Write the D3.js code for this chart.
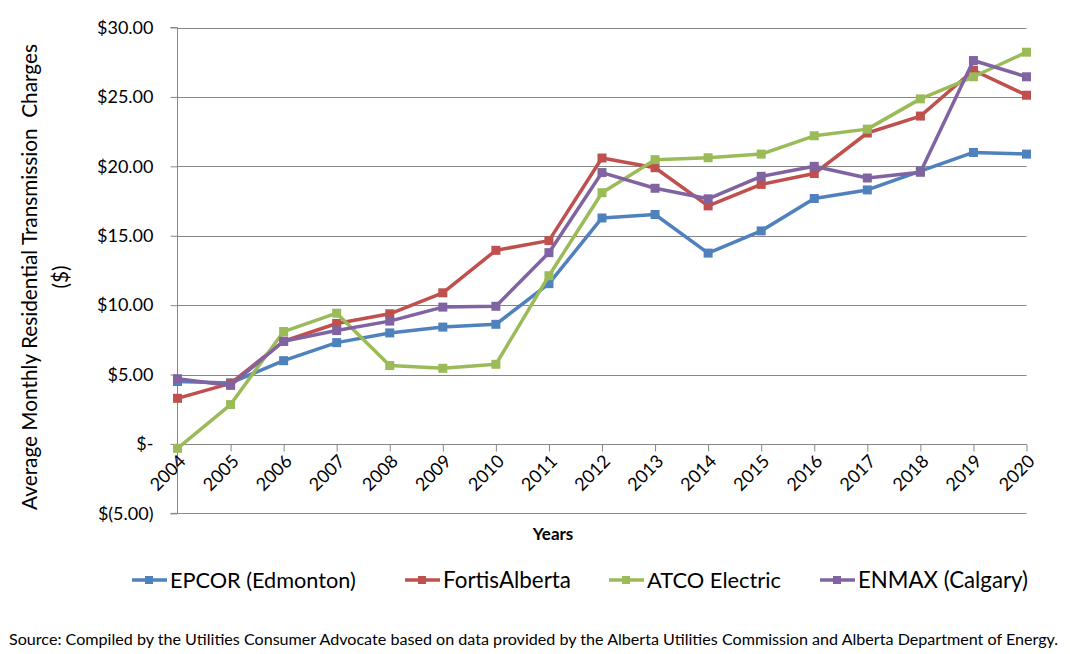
<!DOCTYPE html>
<html>
<head>
<meta charset="utf-8">
<script src="https://cdn.jsdelivr.net/npm/d3@7"></script>
<style>
  html, body { margin: 0; padding: 0; background: #fff; }
  svg { display: block; font-family: Lato, "Open Sans", sans-serif; }
</style>
</head>
<body>
<svg id="chart" width="1070" height="654"></svg>
<script>
const years = [2004,2005,2006,2007,2008,2009,2010,2011,2012,2013,2014,2015,2016,2017,2018,2019,2020];
const epcor  = [4.50,4.40,6.00,7.30,8.00,8.42,8.62,11.55,16.28,16.53,13.75,15.35,17.68,18.30,19.65,21.00,20.88];
const fortis = [3.29,4.37,7.40,8.68,9.38,10.89,13.95,14.65,20.60,19.90,17.15,18.70,19.48,22.40,23.62,26.92,25.12];
const atco   = [-0.31,2.84,8.10,9.42,5.65,5.45,5.74,12.12,18.10,20.48,20.62,20.88,22.20,22.68,24.86,26.45,28.22];
const enmax  = [4.70,4.22,7.40,8.17,8.85,9.86,9.92,13.78,19.55,18.42,17.66,19.28,20.00,19.16,19.57,27.62,26.45];
const seriesNames = ["EPCOR (Edmonton)","FortisAlberta","ATCO Electric","ENMAX (Calgary)"];
const seriesColors = ["#4F81BD","#C0504D","#9BBB59","#8064A2"];
const yTicks = [-5,0,5,10,15,20,25,30];
const yTickLabels = ["$(5.00)","$-","$5.00","$10.00","$15.00","$20.00","$25.00","$30.00"];
const yTitleLines = ["Average Monthly Residential Transmission  Charges","($)"];
const xTitle = "Years";
const sourceText = "Source: Compiled by the Utilities Consumer Advocate based on data provided by the Alberta Utilities Commission and Alberta Department of Energy.";

const series = [epcor, fortis, atco, enmax].map((vals, i) => ({
  name: seriesNames[i], color: seriesColors[i],
  values: vals.map((v, j) => ({ year: years[j], value: v }))
}));

const svg = d3.select("#chart");
const pLeft = 177.5, pRight = 1026.5, pTop = 27.5, pBottom = 513.4;
const x = d3.scalePoint().domain(years).range([pLeft, pRight]);
const y = d3.scaleLinear().domain([-5, 30]).range([pBottom, pTop]);
const axisColor = "#868686";

function fitText(sel, targetWidth) {
  const node = sel.node();
  const fs = parseFloat(sel.attr("font-size"));
  const w = node.getComputedTextLength();
  if (w > 0) sel.attr("font-size", (fs * targetWidth / w).toFixed(2));
}

// Gridlines
svg.append("g").selectAll("line").data(yTicks).join("line")
  .attr("x1", pLeft).attr("x2", pRight)
  .attr("y1", d => Math.round(y(d)) + 0.5).attr("y2", d => Math.round(y(d)) + 0.5)
  .attr("stroke", axisColor).attr("stroke-width", 1);

// Y axis
const yAxis = d3.axisLeft(y).tickValues(yTicks).tickSize(7).tickPadding(17)
  .tickFormat((d, i) => yTickLabels[i]);
const gy = svg.append("g").attr("transform", `translate(${pLeft},0)`).call(yAxis);
gy.select(".domain").attr("stroke", axisColor).attr("d", `M-7,${pTop}H0V${pBottom}H-7`);
gy.selectAll(".tick line").attr("stroke", axisColor);
gy.selectAll(".tick text").attr("font-family", "Lato, sans-serif").attr("font-size", 18).attr("fill", "#000");

// X axis at zero
const xAxis = d3.axisBottom(x).tickSize(7).tickFormat("");
const gx = svg.append("g").attr("transform", `translate(0,${Math.round(y(0)) + 0.5})`).call(xAxis);
gx.select(".domain").attr("stroke", axisColor).attr("d", `M${pLeft},0H${pRight}`);
gx.selectAll(".tick line").attr("stroke", axisColor);

// X labels rotated
svg.append("g").selectAll("text").data(years).join("text")
  .attr("transform", d => `translate(${x(d) + 5},${y(0) + 14}) rotate(-45)`)
  .attr("text-anchor", "end").attr("dy", "0.35em")
  .attr("font-size", 18).attr("fill", "#000")
  .text(d => d);

// Lines
const line = d3.line().x(d => x(d.year)).y(d => y(d.value));
const gs = svg.append("g").selectAll("g").data(series).join("g");
gs.append("path").attr("d", d => line(d.values))
  .attr("fill", "none").attr("stroke", d => d.color).attr("stroke-width", 3.5)
  .attr("stroke-linejoin", "round");
gs.each(function(s) {
  d3.select(this).selectAll("rect").data(s.values).join("rect")
    .attr("x", d => x(d.year) - 4.5).attr("y", d => y(d.value) - 4.5)
    .attr("width", 9).attr("height", 9).attr("fill", s.color);
});

// Axis titles
const yt = svg.append("g").attr("transform", "translate(0,277) rotate(-90)");
const yt1 = yt.append("text").attr("x", 0).attr("y", 37).attr("text-anchor", "middle")
  .attr("font-size", 20).attr("fill", "#000").attr("xml:space", "preserve").text(yTitleLines[0]);
fitText(yt1, 466);
yt.append("text").attr("x", 0).attr("y", 68).attr("text-anchor", "middle")
  .attr("font-size", yt1.attr("font-size")).attr("fill", "#000").text(yTitleLines[1]);

svg.append("text").attr("x", 553).attr("y", 540).attr("text-anchor", "middle")
  .attr("font-size", 17).attr("font-weight", "bold").attr("fill", "#000").text(xTitle);

// Legend
const legendX = [132, 405, 609, 820];
const legendW = [186, 128, 134, 170];
const lg = svg.append("g").selectAll("g").data(series).join("g")
  .attr("transform", (d, i) => `translate(${legendX[i]},580)`);
lg.append("line").attr("x1", 0).attr("x2", 35).attr("y1", 0).attr("y2", 0)
  .attr("stroke", d => d.color).attr("stroke-width", 3.5);
lg.append("rect").attr("x", 13).attr("y", -4).attr("width", 8).attr("height", 8).attr("fill", d => d.color);
lg.append("text").attr("x", 38).attr("y", 0).attr("dy", "0.35em")
  .attr("font-size", 19).attr("fill", "#000").text(d => d.name)
  .each(function(d, i) { fitText(d3.select(this), legendW[i]); });

// Source
const src = svg.append("text").attr("x", 9).attr("y", 645).attr("font-size", 15).attr("fill", "#000").text(sourceText);
fitText(src, 1049);
</script>
</body>
</html>
